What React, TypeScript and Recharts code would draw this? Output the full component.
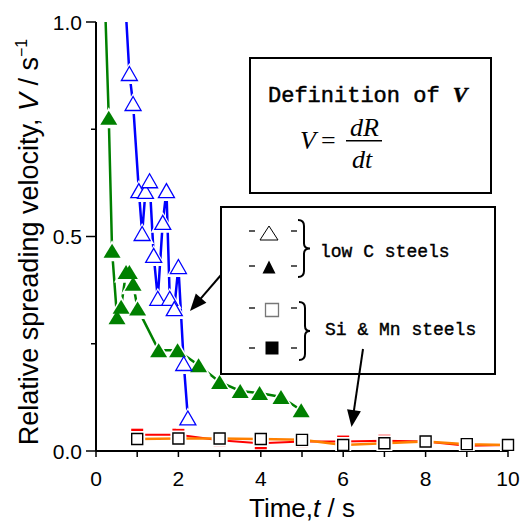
import React from 'react';
import { LineChart, Line, XAxis, YAxis } from 'recharts';

// low C steels, open triangles (blue line)
const lowCOpenTime = [0.62, 0.81, 0.9, 1.04, 1.12, 1.2, 1.3, 1.4, 1.5, 1.62, 1.71, 1.79, 1.9, 2.0, 2.13, 2.23];
const lowCOpenVel = [1.2, 0.88, 0.81, 0.607, 0.507, 0.605, 0.63, 0.456, 0.356, 0.533, 0.607, 0.356, 0.332, 0.43, 0.204, 0.077];

// low C steels, filled triangles (green line)
const lowCFilledTime = [0.2, 0.31, 0.39, 0.51, 0.61, 0.73, 0.81, 0.9, 1.01, 1.52, 1.98, 2.49, 3.0, 3.5, 3.97, 4.49, 4.98];
const lowCFilledVel = [1.1, 0.777, 0.467, 0.312, 0.336, 0.417, 0.417, 0.39, 0.332, 0.235, 0.235, 0.2, 0.161, 0.14, 0.135, 0.126, 0.095];

// Si & Mn steels
const siMnTime = [1, 2, 3, 4, 5, 6, 7, 8, 9, 10];
const siMnOpenVel = [0.028, 0.029, 0.029, 0.028, 0.026, 0.014, 0.018, 0.022, 0.016, 0.014];
const siMnFilledVel = [0.038, 0.038, 0.025, 0.018, 0.022, 0.022, 0.024, 0.022, 0.012, 0.014];

const xTicks = [0, 1, 2, 3, 4, 5, 6, 7, 8, 9, 10];
const xTickLabels = ['0', '', '2', '', '4', '', '6', '', '8', '', '10'];
const yTicks = [0, 0.25, 0.5, 0.75, 1];
const yTickLabels = ['0.0', '', '0.5', '', '1.0'];

const zip = (ts: number[], vs: number[]) => ts.map((t, i) => ({ t, v: vs[i] }));

const openTri = zip(lowCOpenTime, lowCOpenVel);
const filledTri = zip(lowCFilledTime, lowCFilledVel);
const openSq = zip(siMnTime, siMnOpenVel);
const filledSq = zip(siMnTime, siMnFilledVel);

const SANS = '"Liberation Sans", Arial, sans-serif';
const MONO = '"Liberation Mono", monospace';
const SERIF = '"Liberation Serif", "Times New Roman", serif';

const BLUE = '#0000ff';
const GREEN = '#008000';
const RED = '#ff0000';
const ORANGE = '#ff8000';

const tri = (cx: number, cy: number, w: number, h: number) =>
  `M${cx},${cy - h / 2}L${cx + w / 2},${cy + h / 2}L${cx - w / 2},${cy + h / 2}Z`;
const sq = (cx: number, cy: number, s: number) => `M${cx - s / 2},${cy - s / 2}h${s}v${s}h${-s}Z`;

const makeDot = (draw: (cx: number, cy: number) => React.ReactNode) => (p: any) => {
  const { cx, cy, index } = p;
  if (cx == null || cy == null || isNaN(cx) || isNaN(cy)) return <g key={index} />;
  return <g key={index}>{draw(cx, cy)}</g>;
};

// white halos under the markers leave the small gap between line and symbol
const openTriHalo = makeDot((x, y) => <path d={tri(x, y, 24, 21)} fill="#fff" />);
const openTriDot = makeDot((x, y) => <path d={tri(x, y, 16, 14)} fill="#fff" stroke={BLUE} strokeWidth={1.3} />);
const filledTriHalo = makeDot((x, y) => <path d={tri(x, y, 24, 21)} fill="#fff" />);
const filledTriDot = makeDot((x, y) => <path d={tri(x, y, 17, 14)} fill={GREEN} />);
const sqHalo = makeDot((x, y) => <path d={sq(x, y, 16)} fill="#fff" />);
const openSqDot = makeDot((x, y) => <path d={sq(x, y, 11)} fill="#fff" stroke="#000" strokeWidth={1.4} />);
const filledSqDot = makeDot((x, y) => <path d={sq(x, y, 12)} fill={RED} />);

const YTick = (p: any) => {
  const { x, y, payload } = p;
  const label = yTickLabels[yTicks.indexOf(payload.value)];
  const major = label !== '';
  const axisX = x + 14;
  return (
    <g>
      <line x1={axisX - (major ? 10 : 5)} x2={axisX} y1={y} y2={y} stroke="#000" strokeWidth={1.5} />
      {major && (
        <text x={x} y={y} dy="0.36em" textAnchor="end" fontSize={21} fontFamily={SANS} fill="#000">
          {label}
        </text>
      )}
    </g>
  );
};

const Arrow = ({ x1, y1, x2, y2 }: { x1: number; y1: number; x2: number; y2: number }) => {
  const dx = x2 - x1;
  const dy = y2 - y1;
  const len = Math.hypot(dx, dy);
  const ux = dx / len;
  const uy = dy / len;
  const hl = 17;
  const hw = 7;
  const bx = x2 - ux * hl;
  const by = y2 - uy * hl;
  return (
    <g>
      <line x1={x1} y1={y1} x2={bx + ux * 2} y2={by + uy * 2} stroke="#000" strokeWidth={2} />
      <path d={`M${x2},${y2}L${bx - uy * hw},${by + ux * hw}L${bx + uy * hw},${by - ux * hw}Z`} fill="#000" />
    </g>
  );
};

const brace = (x: number, top: number, bot: number, tip: number) => {
  const mid = (top + bot) / 2;
  const c = x + 6;
  return `M${x},${top}Q${c},${top} ${c},${top + 6}L${c},${mid - 5}Q${c},${mid} ${tip},${mid}Q${c},${mid} ${c},${mid + 5}L${c},${bot - 6}Q${c},${bot} ${x},${bot}`;
};

const Overlay = () => (
  <svg width={520} height={525} style={{ position: 'absolute', left: 0, top: 0, pointerEvents: 'none' }}>
    {/* axis titles */}
    <text
      x={38}
      y={242}
      transform="rotate(-90 38 242)"
      textAnchor="middle"
      fontSize={27}
      fontFamily={SANS}
      fill="#000"
    >
      Relative spreading velocity, <tspan fontStyle="italic">V</tspan> / s
      <tspan dy={-11} fontSize={16}>−1</tspan>
    </text>
    <text x={302} y={517} textAnchor="middle" fontSize={26} fontFamily={SANS} fill="#000">
      Time,<tspan fontStyle="italic">t</tspan> / s
    </text>

    {/* definition box */}
    <rect x={250} y={58} width={241} height={135} fill="#fff" stroke="#000" strokeWidth={2} />
    <text x={268} y={101.5} fontSize={22} fontFamily={MONO} fill="#000" stroke="#000" strokeWidth={0.5}>
      Definition of <tspan fontFamily={SERIF} fontStyle="italic" fontWeight="bold">V</tspan>
    </text>
    <text x={300} y={148.5} fontSize={26} fontFamily={SERIF} fill="#000">
      <tspan fontStyle="italic">V</tspan>
    </text>
    <text x={321} y={148.5} fontSize={26} fontFamily={SERIF} fill="#000">=</text>
    <text x={350} y={136} fontSize={26} fontFamily={SERIF} fontStyle="italic" fill="#000">dR</text>
    <line x1={346} x2={382} y1={140.7} y2={140.7} stroke="#000" strokeWidth={1.5} />
    <text x={352} y={168} fontSize={26} fontFamily={SERIF} fontStyle="italic" fill="#000">dt</text>

    {/* legend box */}
    <rect x={221} y={207} width={274} height={167} fill="#fff" stroke="#000" strokeWidth={2} />
    {[231, 266, 308, 348].map((y) => (
      <g key={y}>
        <line x1={249} x2={255} y1={y} y2={y} stroke="#000" strokeWidth={1.3} />
        <line x1={291} x2={297} y1={y} y2={y} stroke="#000" strokeWidth={1.3} />
      </g>
    ))}
    <path d={tri(269, 233, 18, 14)} fill="#fff" stroke="#000" strokeWidth={1} />
    <path d={tri(269, 267, 13, 13)} fill="#000" />
    <path d={sq(272, 310, 13)} fill="#fff" stroke="#777" strokeWidth={1.3} />
    <path d={sq(272, 348, 13)} fill="#000" />
    <path d={brace(298, 220, 277, 310)} fill="none" stroke="#000" strokeWidth={2} />
    <path d={brace(299, 302, 360, 310)} fill="none" stroke="#000" strokeWidth={2} />
    <text x={320} y={256.5} fontSize={18} fontFamily={MONO} fill="#000" stroke="#000" strokeWidth={0.4}>
      low C steels
    </text>
    <text x={325} y={335} fontSize={18} fontFamily={MONO} fill="#000" stroke="#000" strokeWidth={0.4}>
      Si &amp; Mn steels
    </text>

    {/* pointers */}
    <Arrow x1={221} y1={275} x2={190} y2={311} />
    <Arrow x1={363} y1={349} x2={351.5} y2={427} />
  </svg>
);

export default function App() {
  return (
    <div style={{ position: 'absolute', left: 0, top: 0, width: 520, height: 525, background: '#fff' }}>
      <LineChart width={520} height={525} margin={{ top: 22, right: 12, bottom: 34, left: 0 }}>
        <XAxis
          type="number"
          dataKey="t"
          domain={[0, 10]}
          ticks={xTicks}
          interval={0}
          tickFormatter={(v: number) => xTickLabels[xTicks.indexOf(v)]}
          tickSize={6}
          tickMargin={14}
          height={40}
          axisLine={{ stroke: '#000', strokeWidth: 2 }}
          tickLine={{ stroke: '#000', strokeWidth: 1.5 }}
          tick={{ fontSize: 21, fontFamily: SANS, fill: '#000' }}
        />
        <XAxis
          xAxisId="top"
          orientation="top"
          type="number"
          dataKey="t"
          domain={[0, 10]}
          ticks={xTicks}
          interval={0}
          mirror
          height={0}
          tickSize={4}
          tickFormatter={() => ''}
          axisLine={{ stroke: '#000', strokeWidth: 2 }}
          tickLine={{ stroke: '#000', strokeWidth: 1.5 }}
        />
        <YAxis
          type="number"
          domain={[0, 1]}
          allowDataOverflow
          ticks={yTicks}
          interval={0}
          width={96}
          tickSize={10}
          tickMargin={4}
          tickLine={false}
          axisLine={{ stroke: '#000', strokeWidth: 2 }}
          tick={<YTick />}
        />
        <YAxis
          yAxisId="right"
          orientation="right"
          type="number"
          domain={[0, 1]}
          ticks={yTicks}
          interval={0}
          mirror
          width={0}
          tickSize={4}
          tickFormatter={() => ''}
          axisLine={{ stroke: '#000', strokeWidth: 2 }}
          tickLine={{ stroke: '#000', strokeWidth: 1.5 }}
        />

        <Line data={filledSq} dataKey="v" stroke={RED} strokeWidth={2} dot={false} activeDot={false} isAnimationActive={false} />
        <Line data={filledSq} dataKey="v" stroke="none" dot={filledSqDot} activeDot={false} isAnimationActive={false} />
        <Line data={openSq} dataKey="v" stroke={ORANGE} strokeWidth={2.5} dot={false} activeDot={false} isAnimationActive={false} />
        <Line data={openSq} dataKey="v" stroke="none" dot={sqHalo} activeDot={false} isAnimationActive={false} />
        <Line data={openSq} dataKey="v" stroke="none" dot={openSqDot} activeDot={false} isAnimationActive={false} />

        <Line data={filledTri} dataKey="v" stroke={GREEN} strokeWidth={2.5} dot={false} activeDot={false} isAnimationActive={false} />
        <Line data={filledTri} dataKey="v" stroke="none" dot={filledTriHalo} activeDot={false} isAnimationActive={false} />
        <Line data={openTri} dataKey="v" stroke={BLUE} strokeWidth={2.5} dot={false} activeDot={false} isAnimationActive={false} />
        <Line data={openTri} dataKey="v" stroke="none" dot={openTriHalo} activeDot={false} isAnimationActive={false} />
        <Line data={filledTri} dataKey="v" stroke="none" dot={filledTriDot} activeDot={false} isAnimationActive={false} />
        <Line data={openTri} dataKey="v" stroke="none" dot={openTriDot} activeDot={false} isAnimationActive={false} />
      </LineChart>
      <Overlay />
    </div>
  );
}
